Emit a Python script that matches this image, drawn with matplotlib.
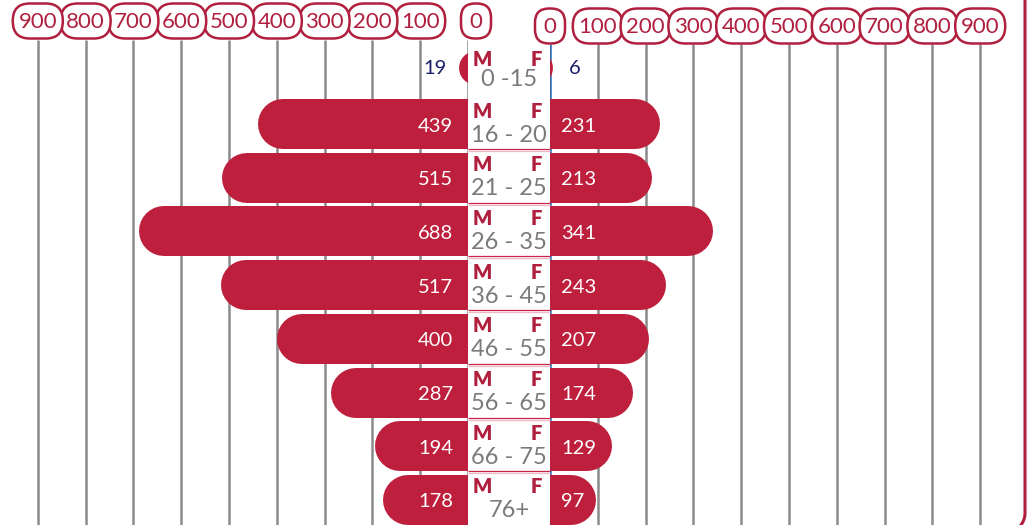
import numpy as np
import matplotlib.pyplot as plt
from matplotlib.patches import FancyBboxPatch, Rectangle

plt.rcParams['font.family'] = ['Lato', 'DejaVu Sans']

# data
age_groups = ['0 -15', '16 - 20', '21 - 25', '26 - 35', '36 - 45',
              '46 - 55', '56 - 65', '66 - 75', '76+']
male = [19, 439, 515, 688, 517, 400, 287, 194, 178]
female = [6, 231, 213, 341, 243, 207, 174, 129, 97]
tick_values = [0, 100, 200, 300, 400, 500, 600, 700, 800, 900]

RED = '#be1f3d'
DARK_RED = '#b01f3e'
GRAY = '#7a7a7a'
GRID = '#8a8a8a'
NAVY = '#1b1f6b'

W, H = 1027, 525
PX = 0.478           # pixels per unit
CENTER = 509         # pixel x of the middle of the label band
gap = 41 / PX        # half width of the label band, in units

fig = plt.figure(figsize=(W / 100, H / 100), dpi=100)
ax = fig.add_axes([0, 0, 1, 1])
ax.set_xlim(-CENTER / PX, (W - CENTER) / PX)
ax.set_ylim(H, 0)
ax.axis('off')

# row layout (pixels)
row_y = np.concatenate([[68], 124 + 53.7 * np.arange(len(age_groups) - 1)])
row_h = [34] + [50] * (len(age_groups) - 1)

# grid lines
for t in tick_values:
    ax.vlines(-(gap + t), 40, H, color=GRID, lw=1.8, zorder=1)
    ax.vlines(gap + t, 44, H, color='#2f6db5' if t == 0 else GRID, lw=1.8, zorder=1)

# bars as round-capped lines
for i, (m, f) in enumerate(zip(male, female)):
    y = row_y[i]
    r = row_h[i] / 2 / PX
    lw = row_h[i] * 0.72
    ax.plot([0, -(gap + m) + r], [y, y], color=RED, lw=lw,
            solid_capstyle='round', zorder=2)
    ax.plot([0, gap + f - r], [y, y], color=RED, lw=lw,
            solid_capstyle='round', zorder=2)

    if m < 60:
        ax.text(-(gap + m) - 12 / PX, y, str(m), ha='right', va='center',
                fontsize=14.5, color=NAVY, zorder=5)
    else:
        ax.text(-gap - 15 / PX, y + 2, str(m), ha='right', va='center',
                fontsize=14.5, color='white', zorder=5)
    if f < 60:
        ax.text(gap + f + 16 / PX, y, str(f), ha='left', va='center',
                fontsize=14.5, color=NAVY, zorder=5)
    else:
        ax.text(gap + 11 / PX, y + 2, str(f), ha='left', va='center',
                fontsize=14.5, color='white', zorder=5)

# centre label band
ax.add_patch(Rectangle((-gap, 40), 2 * gap, H, facecolor='white',
                       edgecolor='none', zorder=3))
for y in row_y[1:-1]:
    ax.hlines(y + 25, -gap, gap, color='#c8244a', lw=0.9, zorder=4)
    ax.hlines(y + 27, -gap, gap, color='#f0b8c4', lw=0.9, zorder=4)

for i, label in enumerate(age_groups):
    y = row_y[i]
    dm = -8 if i == 0 else -13
    ax.text(-gap + 14 / PX, y + dm, 'M', ha='center', va='center',
            fontsize=14.5, fontweight='heavy', color=DARK_RED, zorder=5)
    ax.text(gap - 14 / PX, y + dm, 'F', ha='center', va='center',
            fontsize=14.5, fontweight='heavy', color=DARK_RED, zorder=5)
    ax.text(0, y + 11, label, ha='center', va='center',
            fontsize=17, color=GRAY, zorder=5)

# tick badges (pill shapes, corrected for the unequal x/y scale)
for t in tick_values:
    n = len(str(t))
    bw = (20 + 10 * n) / PX
    rad = (min(20 + 10 * n, 36) / 2 - 1) / PX
    for side, yc in ((-1, 21), (1, 26)):
        xc = side * (gap + t) + (8 / PX if (side < 0 and t == 0) else 0)
        ax.add_patch(FancyBboxPatch((xc - bw / 2, yc - 17.5), bw, 35,
                                    boxstyle=f'round,pad=0,rounding_size={rad}',
                                    mutation_aspect=PX, fc='white', ec=DARK_RED,
                                    lw=1.8, zorder=6))
        ax.text(xc, yc + 1, str(t), ha='center', va='center', fontsize=16,
                color=DARK_RED, zorder=7)

# frame line on the right edge with a rounded bottom corner
frame = fig.add_axes([0, 0, 1, 1])
frame.set_xlim(0, W)
frame.set_ylim(H, 0)
frame.axis('off')
frame.patch.set_alpha(0)
ang = np.linspace(0, np.pi / 2, 30)
fx = np.concatenate([[1025], 1005 + 20 * np.cos(ang)])
fy = np.concatenate([[-5], 513 + 20 * np.sin(ang)])
frame.plot(fx, fy, color=DARK_RED, lw=2.2, solid_capstyle='butt')

fig.savefig('out.png', dpi=100)
